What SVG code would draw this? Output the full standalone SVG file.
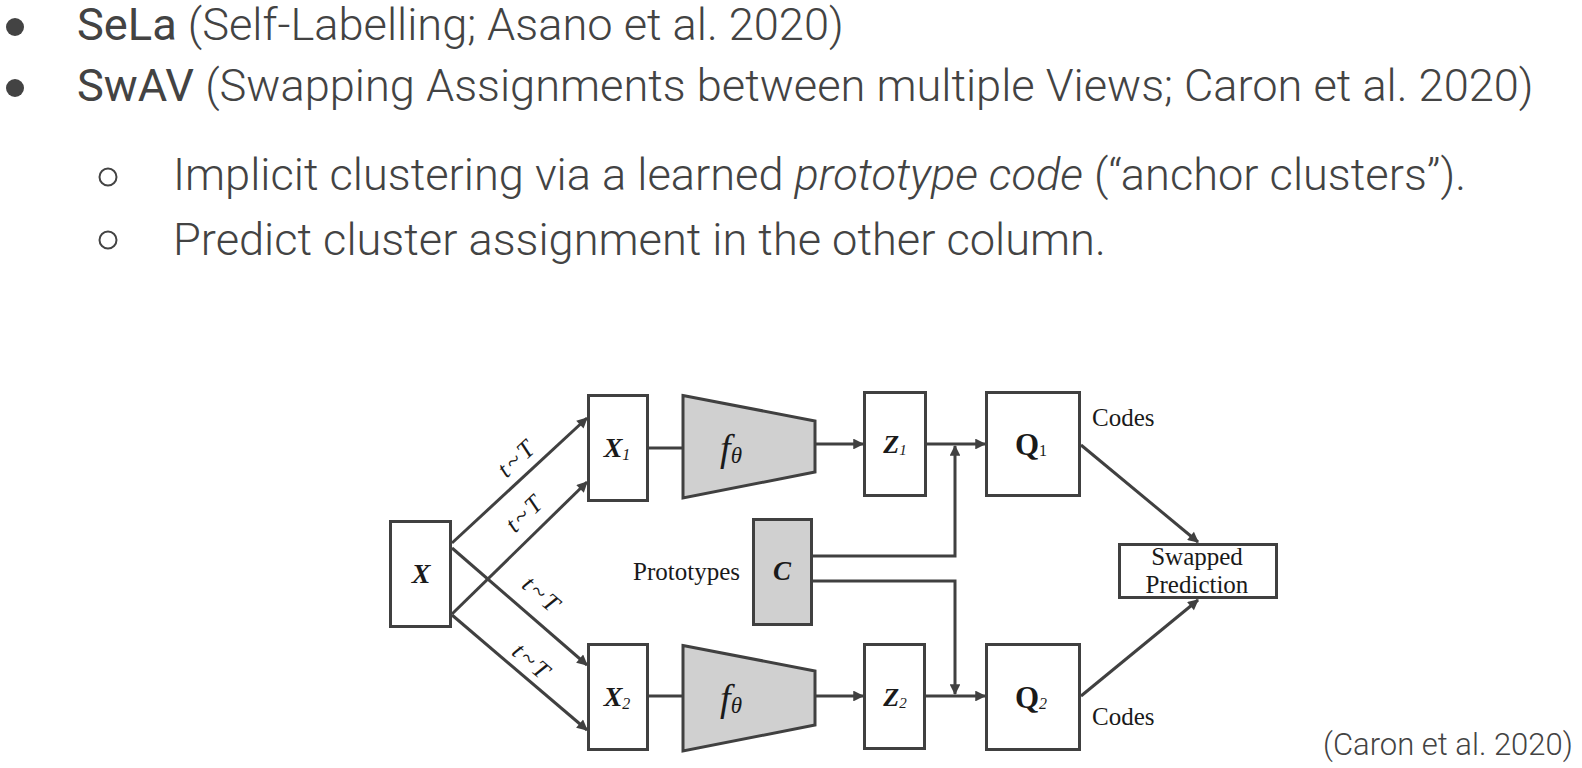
<svg xmlns="http://www.w3.org/2000/svg" width="1582" height="768" viewBox="0 0 1582 768">
<defs>
<style>
.t{font-family:Roboto,"Liberation Sans",sans-serif;font-weight:300;fill:#434343;}
.b{font-weight:400;}
.s{font-family:"Liberation Serif","DejaVu Serif",serif;fill:#1a1a1a;}
.box{fill:#ffffff;stroke:#404040;stroke-width:3;}
.gray{fill:#d0d0d0;stroke:#404040;stroke-width:3;}
.ln{fill:none;stroke:#404040;stroke-width:3;}
.ar{fill:none;stroke:#404040;stroke-width:3;marker-end:url(#ah);}
</style>
<marker id="ah" viewBox="0 0 10 10" refX="9" refY="5" markerWidth="4" markerHeight="3.6" orient="auto" markerUnits="strokeWidth">
<path d="M0,0 L10,5 L0,10 z" fill="#404040"/>
</marker>
</defs>
<rect width="1582" height="768" fill="#ffffff"/>

<g id="bullets">
<circle cx="15" cy="27" r="9" fill="#434343"/>
<text class="t" x="77" y="40" font-size="45.2"><tspan class="b">SeLa</tspan> (Self-Labelling; Asano et al. 2020)</text>
<circle cx="15" cy="88" r="9" fill="#434343"/>
<text class="t" x="77" y="101" font-size="45.2"><tspan class="b">SwAV</tspan> (Swapping Assignments between multiple Views; Caron et al. 2020)</text>
<circle cx="108" cy="177" r="8.5" fill="none" stroke="#434343" stroke-width="2"/>
<text class="t" x="173" y="190" font-size="45.2">Implicit clustering via a learned <tspan font-style="italic">prototype code</tspan> (“anchor clusters”).</text>
<circle cx="108" cy="240" r="8.5" fill="none" stroke="#434343" stroke-width="2"/>
<text class="t" x="173" y="255" font-size="45.2">Predict cluster assignment in the other column.</text>
<text class="t" x="1323" y="755" font-size="31">(Caron et al. 2020)</text>
</g>

<g id="connectors">
<line class="ar" x1="452" y1="543" x2="587" y2="418"/>
<line class="ar" x1="452" y1="614" x2="587" y2="482"/>
<line class="ar" x1="452" y1="548" x2="587" y2="665"/>
<line class="ar" x1="452" y1="615" x2="587" y2="730"/>
<line class="ln" x1="649" y1="448" x2="683" y2="448"/>
<line class="ln" x1="649" y1="696" x2="683" y2="696"/>
<line class="ar" x1="815" y1="444" x2="863" y2="444"/>
<line class="ar" x1="815" y1="696" x2="863" y2="696"/>
<line class="ar" x1="927" y1="444" x2="985" y2="444"/>
<line class="ar" x1="926" y1="696" x2="985" y2="696"/>
<polyline class="ar" points="813,556 955,556 955,446"/>
<polyline class="ar" points="813,581 955,581 955,694"/>
<line class="ar" x1="1081" y1="445" x2="1198" y2="542"/>
<line class="ar" x1="1081" y1="696" x2="1198" y2="600"/>
<g class="s" font-style="italic" font-size="25" text-anchor="middle" letter-spacing="3">
<text transform="translate(517,458) rotate(-43)" y="8">t~T</text>
<text transform="translate(525,513) rotate(-44)" y="8">t~T</text>
<text transform="translate(542,595) rotate(41)" y="8">t~T</text>
<text transform="translate(532,662) rotate(41)" y="8">t~T</text>
</g>
</g>

<g id="node-x">
<rect class="box" x="390.5" y="521.5" width="60" height="105"/>
<text class="s" x="421" y="583" font-size="28" font-weight="bold" font-style="italic" text-anchor="middle">X</text>
</g>
<g id="node-x1">
<rect class="box" x="588.5" y="395.5" width="59" height="105"/>
<text class="s" x="617" y="457" font-size="28" font-weight="bold" font-style="italic" text-anchor="middle">X<tspan font-weight="normal" font-size="16" dy="3">1</tspan></text>
</g>
<g id="node-x2">
<rect class="box" x="588.5" y="644.5" width="59" height="105"/>
<text class="s" x="617" y="706" font-size="28" font-weight="bold" font-style="italic" text-anchor="middle">X<tspan font-weight="normal" font-size="16" dy="3">2</tspan></text>
</g>
<g id="node-f1">
<polygon class="gray" points="683,395.5 815,421 815,472 683,498"/>
<text class="s" x="731" y="461" font-size="38" font-style="italic" text-anchor="middle">f<tspan font-size="23" dy="2">θ</tspan></text>
</g>
<g id="node-f2">
<polygon class="gray" points="683,645.5 815,671 815,725 683,751"/>
<text class="s" x="731" y="711" font-size="38" font-style="italic" text-anchor="middle">f<tspan font-size="23" dy="2">θ</tspan></text>
</g>
<g id="node-c">
<rect class="gray" x="753.5" y="519.5" width="58" height="105"/>
<text class="s" x="782" y="580" font-size="27" font-weight="bold" font-style="italic" text-anchor="middle">C</text>
<text class="s" x="740" y="580" font-size="25" text-anchor="end">Prototypes</text>
</g>
<g id="node-z1">
<rect class="box" x="864.5" y="392.5" width="61" height="103"/>
<text class="s" x="895" y="453" font-size="26" font-weight="bold" font-style="italic" text-anchor="middle">Z<tspan font-weight="normal" font-size="15" dy="2">1</tspan></text>
</g>
<g id="node-z2">
<rect class="box" x="864.5" y="644.5" width="60" height="104"/>
<text class="s" x="895" y="706" font-size="26" font-weight="bold" font-style="italic" text-anchor="middle">Z<tspan font-weight="normal" font-size="15" dy="2">2</tspan></text>
</g>
<g id="node-q1">
<rect class="box" x="986.5" y="392.5" width="93" height="103"/>
<text class="s" x="1031" y="455" font-size="31" font-weight="bold" text-anchor="middle">Q<tspan font-weight="normal" font-size="16" dy="1">1</tspan></text>
<text class="s" x="1092" y="426" font-size="25">Codes</text>
</g>
<g id="node-q2">
<rect class="box" x="986.5" y="644.5" width="93" height="105"/>
<text class="s" x="1031" y="708" font-size="31" font-weight="bold" text-anchor="middle">Q<tspan font-weight="normal" font-size="16" font-style="italic" dy="1">2</tspan></text>
<text class="s" x="1092" y="725" font-size="25">Codes</text>
</g>
<g id="node-swapped">
<rect class="box" x="1119.5" y="544.5" width="157" height="53"/>
<text class="s" x="1197" y="565" font-size="25" text-anchor="middle">Swapped</text>
<text class="s" x="1197" y="593" font-size="25" text-anchor="middle">Prediction</text>
</g>
</svg>
